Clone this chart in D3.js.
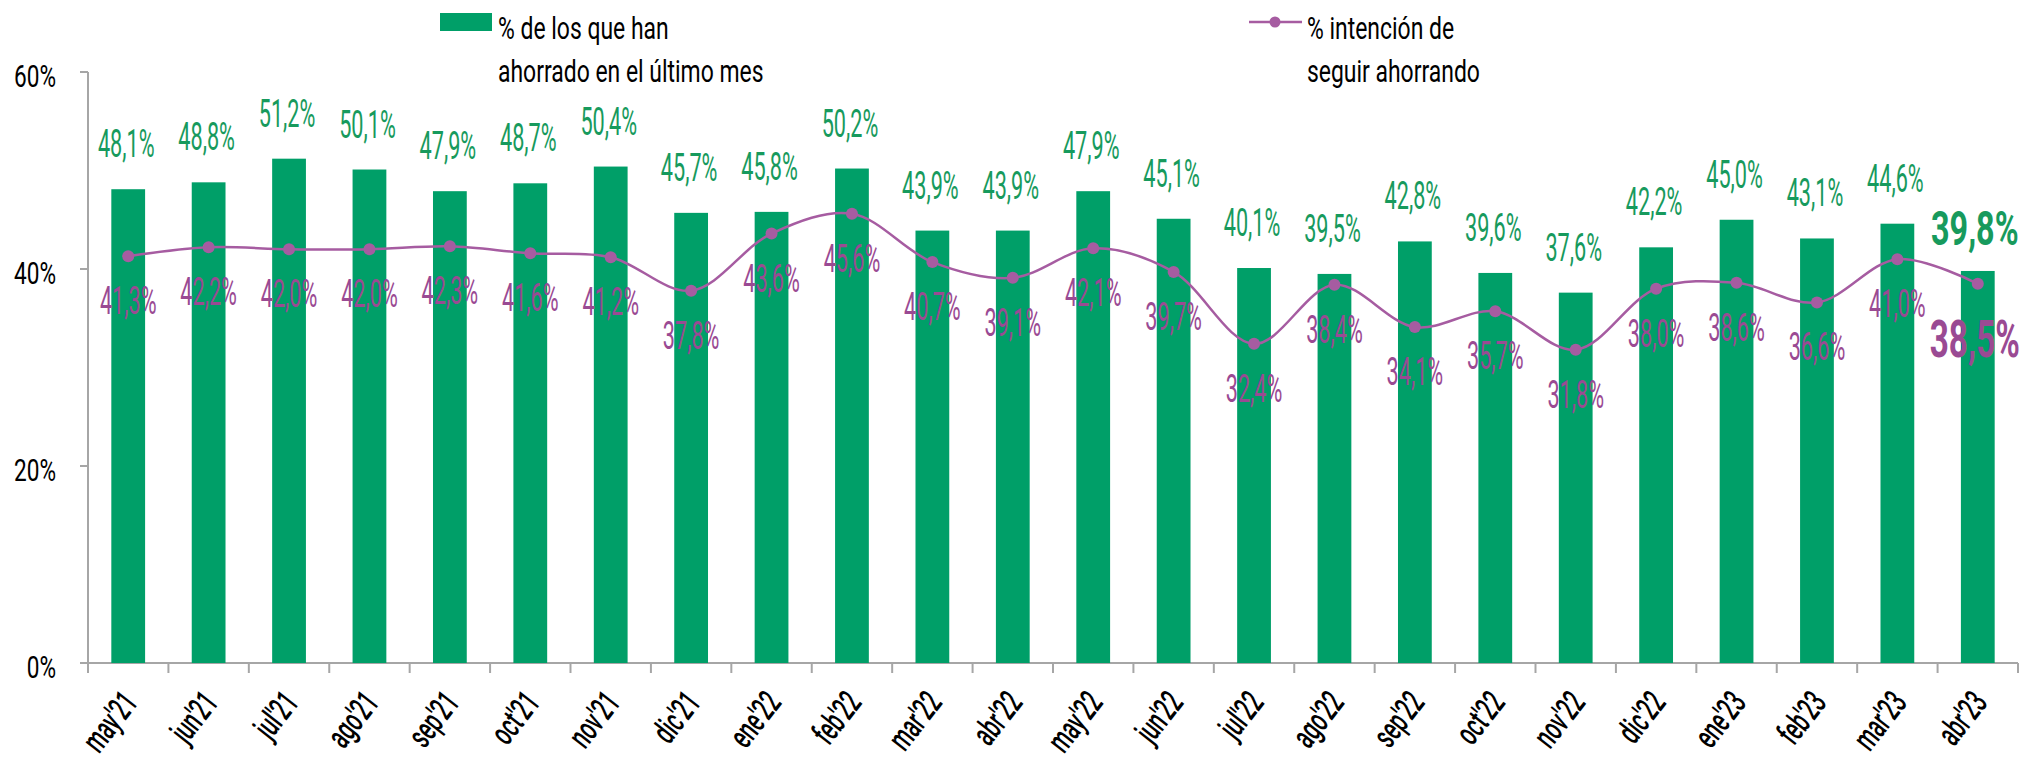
<!DOCTYPE html>
<html>
<head>
<meta charset="utf-8">
<script src="https://cdn.jsdelivr.net/npm/d3@7"></script>
<style>
  body { margin: 0; background: #fff; }
  svg text { font-family: "Roboto", "Liberation Sans", sans-serif; }
</style>
</head>
<body>
<div id="chart"></div>
<script>
const months = ["may'21", "jun'21", "jul'21", "ago'21", "sep'21", "oct'21", "nov'21", "dic'21",
    "ene'22", "feb'22", "mar'22", "abr'22", "may'22", "jun'22", "jul'22", "ago'22", "sep'22",
    "oct'22", "nov'22", "dic'22", "ene'23", "feb'23", "mar'23", "abr'23"];

const ahorrado = [48.1, 48.8, 51.2, 50.1, 47.9, 48.7, 50.4, 45.7, 45.8, 50.2, 43.9, 43.9,
    47.9, 45.1, 40.1, 39.5, 42.8, 39.6, 37.6, 42.2, 45.0, 43.1, 44.6, 39.8];

const intencion = [41.3, 42.2, 42.0, 42.0, 42.3, 41.6, 41.2, 37.8, 43.6, 45.6, 40.7, 39.1,
    42.1, 39.7, 32.4, 38.4, 34.1, 35.7, 31.8, 38.0, 38.6, 36.6, 41.0, 38.5];

const yTicks = [0, 20, 40, 60];

const width = 2023, height = 759;
const GREEN = "#009f68", GREEN_TXT = "#179a5d", PURPLE = "#a65ca1", PURPLE_TXT = "#9a4a93";
const AXIS = "#a6a6a6";

const svg = d3.select("#chart").append("svg")
    .attr("width", width)
    .attr("height", height);

const x = d3.scaleBand()
    .domain(months)
    .range([88, 2018])
    .paddingInner(0.58)
    .paddingOuter(0.29);

const y = d3.scaleLinear().domain([0, 60]).range([663, 72]);

const fmt = v => v.toFixed(1).replace(".", ",") + "%";

// condensed text helper: squeeze horizontally to get the narrow look
function label(sel, px, py, txt, opts = {}) {
    const g = sel.append("g").attr("transform", `translate(${px},${py})${opts.rotate ? ` rotate(${opts.rotate})` : ""}`);
    g.append("text")
        .attr("transform", `scale(${opts.sx || 0.6},1)`)
        .attr("text-anchor", opts.anchor || "middle")
        .attr("fill", opts.fill || "#000")
        .style("font-size", (opts.size || 32) + "px")
        .style("font-weight", opts.weight || 400)
        .text(txt);
    return g;
}

// =========================
// AXES
// =========================
svg.append("line")
    .attr("x1", 88).attr("x2", 88)
    .attr("y1", y(60)).attr("y2", y(0) + 10)
    .attr("stroke", AXIS).attr("stroke-width", 2);

svg.append("line")
    .attr("x1", 80).attr("x2", 2018)
    .attr("y1", y(0)).attr("y2", y(0))
    .attr("stroke", AXIS).attr("stroke-width", 2);

yTicks.forEach(t => {
    svg.append("line")
        .attr("x1", 80).attr("x2", 88)
        .attr("y1", y(t)).attr("y2", y(t))
        .attr("stroke", AXIS).attr("stroke-width", 2);
    label(svg, 56, y(t) + 15, t + "%", { anchor: "end", size: 31, sx: 0.73 });
});

const step = x.step();
d3.range(months.length + 1).forEach(i => {
    const tx = 88 + i * step;
    svg.append("line")
        .attr("x1", tx).attr("x2", tx)
        .attr("y1", y(0)).attr("y2", y(0) + 10)
        .attr("stroke", AXIS).attr("stroke-width", 2);
});

months.forEach(m => {
    label(svg, x(m) + x.bandwidth() / 2 + 11, 703, m, { anchor: "end", size: 34, sx: 0.6, weight: 500, rotate: -52 });
});

// =========================
// BARS
// =========================
svg.append("g").selectAll("rect")
    .data(ahorrado)
    .enter()
    .append("rect")
    .attr("x", (d, i) => x(months[i]))
    .attr("y", d => y(d))
    .attr("width", x.bandwidth())
    .attr("height", d => y(0) - y(d))
    .attr("fill", GREEN);

// =========================
// LINE
// =========================
const cx = i => x(months[i]) + x.bandwidth() / 2;

const line = d3.line()
    .x((d, i) => cx(i))
    .y(d => y(d))
    .curve(d3.curveCatmullRom.alpha(0.5));

svg.append("path")
    .datum(intencion)
    .attr("d", line)
    .attr("fill", "none")
    .attr("stroke", PURPLE)
    .attr("stroke-width", 2.5);

svg.append("g").selectAll("circle")
    .data(intencion)
    .enter()
    .append("circle")
    .attr("cx", (d, i) => cx(i))
    .attr("cy", d => y(d))
    .attr("r", 6)
    .attr("fill", PURPLE);

// =========================
// VALUE LABELS
// =========================
const last = months.length - 1;
ahorrado.forEach((v, i) => {
    if (i === last) return;
    label(svg, cx(i) - 2, y(v) - 32, fmt(v), { fill: GREEN_TXT, size: 38, sx: 0.57 });
});
intencion.forEach((v, i) => {
    if (i === last) return;
    label(svg, cx(i), y(v) + 58, fmt(v), { fill: PURPLE_TXT, size: 38, sx: 0.57 });
});
label(svg, cx(last) - 3, y(ahorrado[last]) - 26, fmt(ahorrado[last]), { fill: GREEN_TXT, size: 49, weight: 700, sx: 0.66 });
label(svg, cx(last) - 3, y(intencion[last]) + 73, fmt(intencion[last]), { fill: PURPLE_TXT, size: 52, weight: 700, sx: 0.64 });

// =========================
// LEGEND
// =========================
svg.append("rect")
    .attr("x", 440).attr("y", 13)
    .attr("width", 52).attr("height", 18)
    .attr("fill", GREEN);
label(svg, 498, 39, "% de los que han", { anchor: "start", size: 31, sx: 0.74 });
label(svg, 498, 82, "ahorrado en el último mes", { anchor: "start", size: 31, sx: 0.74 });

svg.append("line")
    .attr("x1", 1249).attr("x2", 1302)
    .attr("y1", 22).attr("y2", 22)
    .attr("stroke", PURPLE).attr("stroke-width", 2.5);
svg.append("circle")
    .attr("cx", 1275).attr("cy", 22).attr("r", 5.5)
    .attr("fill", PURPLE);
label(svg, 1307, 39, "% intención de", { anchor: "start", size: 31, sx: 0.74 });
label(svg, 1307, 82, "seguir ahorrando", { anchor: "start", size: 31, sx: 0.74 });
</script>
</body>
</html>
